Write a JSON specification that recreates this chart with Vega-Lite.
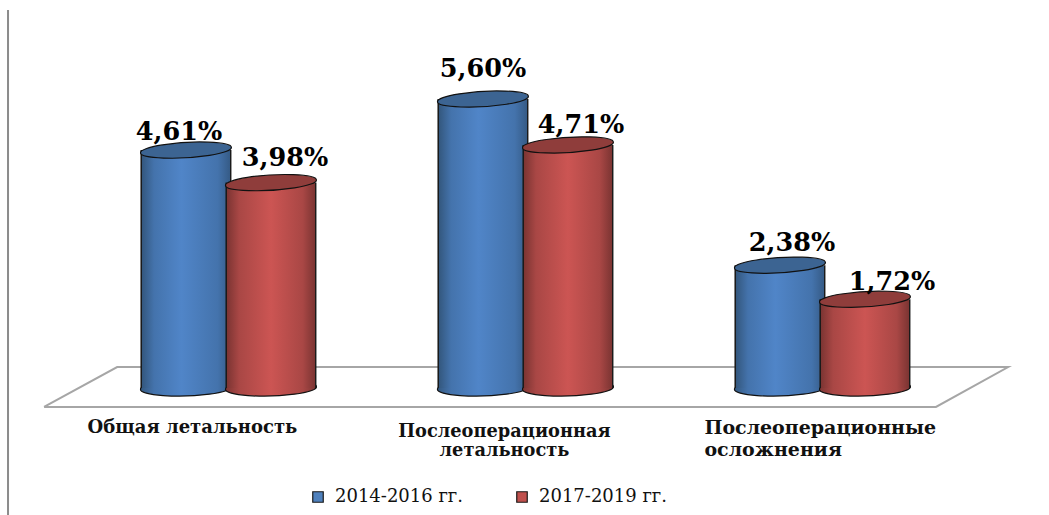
{
"$schema":"https://vega.github.io/schema/vega-lite/v6.json",
"width":1049,"height":515,"padding":0,"autosize":{"type":"none"},
"background":"white",
"datasets":{
"rates":[
{"category":"Общая летальность","period":"2014-2016 гг.","value":4.61,"label":"4,61%"},
{"category":"Общая летальность","period":"2017-2019 гг.","value":3.98,"label":"3,98%"},
{"category":"Послеоперационная летальность","period":"2014-2016 гг.","value":5.60,"label":"5,60%"},
{"category":"Послеоперационная летальность","period":"2017-2019 гг.","value":4.71,"label":"4,71%"},
{"category":"Послеоперационные осложнения","period":"2014-2016 гг.","value":2.38,"label":"2,38%"},
{"category":"Послеоперационные осложнения","period":"2017-2019 гг.","value":1.72,"label":"1,72%"}
],
"floor":[
{"corner":1,"along":-0.121,"height":-0.368},
{"corner":2,"along":0.125,"height":0.407},
{"corner":3,"along":3.125,"height":0.407},
{"corner":4,"along":2.882,"height":-0.368},
{"corner":5,"along":-0.121,"height":-0.368}
],
"frame":[{"along":-0.2424,"top":7.325,"bottom":-2.461}]
},
"layer":[
{"data":{"name":"frame"},
"mark":{"type":"rule","color":"#8c8c8c","strokeWidth":2},
"encoding":{
"x":{"field":"along","type":"quantitative","axis":null,"scale":{"domain":[-0.2694,3.2626],"nice":false,"zero":false}},
"y":{"field":"top","type":"quantitative","axis":null,"scale":{"domain":[-2.461,7.519],"nice":false,"zero":false}},
"y2":{"field":"bottom"}}},
{"data":{"name":"floor"},
"mark":{"type":"line","color":"#a6a6a6","strokeWidth":2,"clip":false},
"encoding":{
"x":{"field":"along","type":"quantitative","axis":null,"scale":{"domain":[-0.2694,3.2626],"nice":false,"zero":false}},
"y":{"field":"height","type":"quantitative","axis":null,"scale":{"domain":[-2.461,7.519],"nice":false,"zero":false}},
"order":{"field":"corner"}}},
{"data":{"name":"rates"},
"encoding":{
"x":{"field":"category","type":"nominal","axis":null,"sort":null,
"scale":{"domain":["Общая летальность","Послеоперационная летальность","Послеоперационные осложнения"],"paddingInner":0,"paddingOuter":0.266,"align":0.506}},
"xOffset":{"field":"period","type":"nominal","scale":{"domain":["2014-2016 гг.","2017-2019 гг."],"paddingInner":0,"paddingOuter":0.747}},
"y":{"field":"value","type":"quantitative","axis":null,
"scale":{"domain":[-2.461,7.519],"nice":false,"zero":false}}},
"layer":[
{"transform":[{"filter":"datum.period === '2014-2016 гг.'"}],
"layer":[
{"mark":{"type":"point","filled":true,"opacity":1,"size":8281,"stroke":"#111111","strokeWidth":1.2,
"shape":"M-0.999,0.03A1,0.17,-1.7,1,1,0.999,-0.03A1,0.17,-1.7,1,1,-0.999,0.03Z",
"fill":{"x1":0,"x2":1,"y1":0,"y2":0,"gradient":"linear","stops":[{"offset":0,"color":"#34587f"},{"offset":0.15,"color":"#4473ac"},{"offset":0.45,"color":"#5085c8"},{"offset":0.85,"color":"#4473ac"},{"offset":1,"color":"#365c88"}]}},
"encoding":{"y":{"datum":0}}},
{"mark":{"type":"bar","size":91,"cornerRadius":0,
"fill":{"x1":0,"x2":1,"y1":0,"y2":0,"gradient":"linear","stops":[{"offset":0,"color":"#1a1a1a"},{"offset":0.012,"color":"#1a1a1a"},{"offset":0.02,"color":"#34587f"},{"offset":0.15,"color":"#4473ac"},{"offset":0.45,"color":"#5085c8"},{"offset":0.85,"color":"#4473ac"},{"offset":0.98,"color":"#365c88"},{"offset":0.988,"color":"#1a1a1a"},{"offset":1,"color":"#1a1a1a"}]}},
"encoding":{"y2":{"datum":0}}},
{"mark":{"type":"point","filled":true,"opacity":1,"size":8281,"stroke":"#111111","strokeWidth":1.2,"fill":"#3c6492",
"shape":"M-0.998,0.06A1,0.165,-3.4,1,1,0.998,-0.06A1,0.165,-3.4,1,1,-0.998,0.06Z"}}
]},
{"transform":[{"filter":"datum.period === '2017-2019 гг.'"}],
"layer":[
{"mark":{"type":"point","filled":true,"opacity":1,"size":8281,"stroke":"#111111","strokeWidth":1.2,
"shape":"M-0.999,0.03A1,0.17,-1.7,1,1,0.999,-0.03A1,0.17,-1.7,1,1,-0.999,0.03Z",
"fill":{"x1":0,"x2":1,"y1":0,"y2":0,"gradient":"linear","stops":[{"offset":0,"color":"#7d3533"},{"offset":0.15,"color":"#a94745"},{"offset":0.5,"color":"#cc5553"},{"offset":0.85,"color":"#a94745"},{"offset":1,"color":"#7d3533"}]}},
"encoding":{"y":{"datum":0}}},
{"mark":{"type":"bar","size":91,"cornerRadius":0,
"fill":{"x1":0,"x2":1,"y1":0,"y2":0,"gradient":"linear","stops":[{"offset":0,"color":"#1a1a1a"},{"offset":0.012,"color":"#1a1a1a"},{"offset":0.02,"color":"#7d3533"},{"offset":0.15,"color":"#a94745"},{"offset":0.5,"color":"#cc5553"},{"offset":0.85,"color":"#a94745"},{"offset":0.98,"color":"#7d3533"},{"offset":0.988,"color":"#1a1a1a"},{"offset":1,"color":"#1a1a1a"}]}},
"encoding":{"y2":{"datum":0}}},
{"mark":{"type":"point","filled":true,"opacity":1,"size":8281,"stroke":"#111111","strokeWidth":1.2,"fill":"#8f3d3b",
"shape":"M-0.998,0.06A1,0.165,-3.4,1,1,0.998,-0.06A1,0.165,-3.4,1,1,-0.998,0.06Z"}}
]},
{"mark":{"type":"point","filled":true,"opacity":1,"size":0},
"encoding":{"color":{"field":"period","type":"nominal",
"scale":{"domain":["2014-2016 гг.","2017-2019 гг."],"range":["#4f81bd","#c0504d"]},
"legend":{"title":null,"orient":"none","legendX":309,"legendY":488,"direction":"horizontal","columns":2,"columnPadding":49,
"symbolType":"square","symbolSize":110,"symbolStrokeColor":"#1a1a1a","symbolStrokeWidth":1.2,"labelOffset":8,"labelFont":"DejaVu Serif","labelFontSize":18,"labelColor":"#111111","labelLimit":300}}}},
{"transform":[{"filter":"datum.label === '4,61%'"}],"mark":{"type":"text","font":"DejaVu Serif","fontWeight":"bold","fontSize":25.5,"color":"#000000","dx":-7,"dy":-10,"baseline":"alphabetic"},"encoding":{"text":{"field":"label"}}},
{"transform":[{"filter":"datum.label === '3,98%'"}],"mark":{"type":"text","font":"DejaVu Serif","fontWeight":"bold","fontSize":25.5,"color":"#000000","dx":14,"dy":-17,"baseline":"alphabetic"},"encoding":{"text":{"field":"label"}}},
{"transform":[{"filter":"datum.label === '5,60%'"}],"mark":{"type":"text","font":"DejaVu Serif","fontWeight":"bold","fontSize":25.5,"color":"#000000","dx":0,"dy":-22,"baseline":"alphabetic"},"encoding":{"text":{"field":"label"}}},
{"transform":[{"filter":"datum.label === '4,71%'"}],"mark":{"type":"text","font":"DejaVu Serif","fontWeight":"bold","fontSize":25.5,"color":"#000000","dx":13,"dy":-12,"baseline":"alphabetic"},"encoding":{"text":{"field":"label"}}},
{"transform":[{"filter":"datum.label === '2,38%'"}],"mark":{"type":"text","font":"DejaVu Serif","fontWeight":"bold","fontSize":25.5,"color":"#000000","dx":12,"dy":-14,"baseline":"alphabetic"},"encoding":{"text":{"field":"label"}}},
{"transform":[{"filter":"datum.label === '1,72%'"}],"mark":{"type":"text","font":"DejaVu Serif","fontWeight":"bold","fontSize":25.5,"color":"#000000","dx":27,"dy":-9,"baseline":"alphabetic"},"encoding":{"text":{"field":"label"}}},
{"transform":[{"filter":"datum.label === '4,61%'"}],"mark":{"type":"text","font":"DejaVu Serif","fontWeight":"bold","fontSize":18,"color":"#111111","dx":-36,"baseline":"alphabetic"},
"encoding":{"xOffset":null,"y":{"datum":-0.866},"text":{"field":"category"}}},
{"transform":[{"filter":"datum.label === '5,60%'"}],"mark":{"type":"text","font":"DejaVu Serif","fontWeight":"bold","fontSize":17.8,"color":"#111111","dx":-21,"lineBreak":" ","lineHeight":19,"baseline":"alphabetic"},
"encoding":{"xOffset":null,"y":{"datum":-0.956},"text":{"field":"category"}}},
{"transform":[{"filter":"datum.label === '2,38%'"}],"mark":{"type":"text","font":"DejaVu Serif","fontWeight":"bold","fontSize":19,"color":"#111111","align":"left","dx":-118,"lineBreak":" ","lineHeight":22,"baseline":"alphabetic"},
"encoding":{"xOffset":null,"y":{"datum":-0.896},"text":{"field":"category"}}}
]}
],
"resolve":{"scale":{"x":"independent"}},
"config":{"view":{"stroke":null}}
}
